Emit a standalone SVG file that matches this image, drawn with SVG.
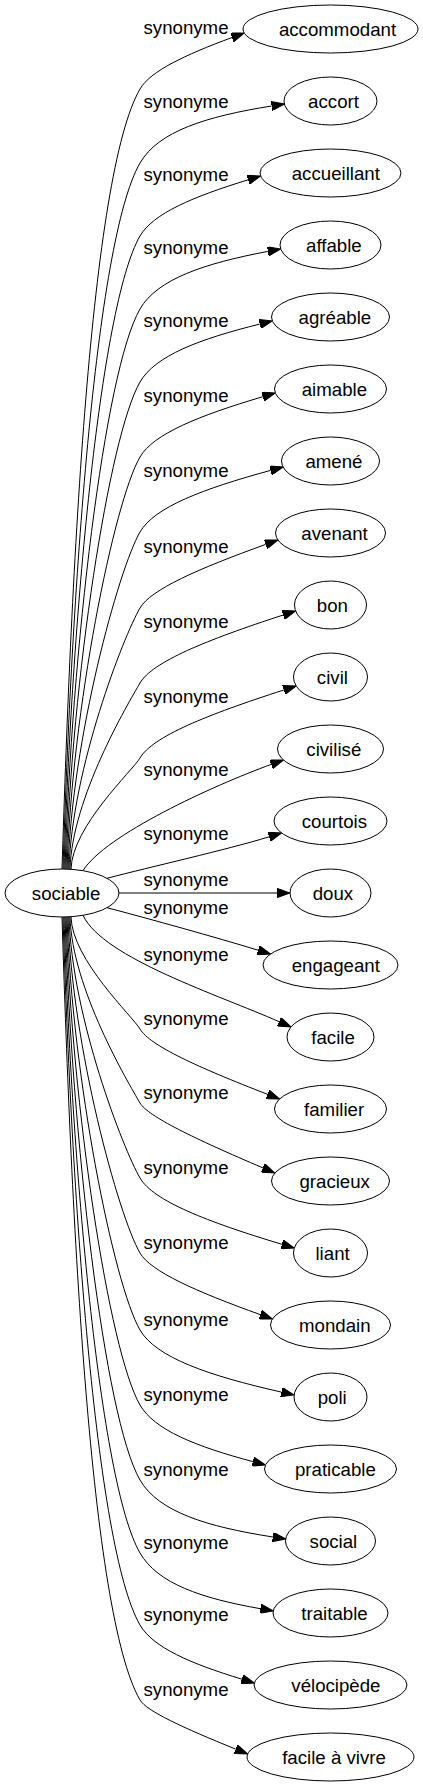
<svg xmlns="http://www.w3.org/2000/svg" width="423" height="1787" viewBox="0 0 423 1787">
<style>
text{font-family:"Liberation Sans",Arial,sans-serif;font-size:18.67px;fill:#000;text-anchor:middle}
.n ellipse{fill:none;stroke:#000;stroke-width:1}
#edges path{fill:none;stroke:#000;stroke-width:1;marker-end:url(#ah)}
</style>
<defs>
<marker id="ah" markerUnits="userSpaceOnUse" viewBox="0 0 13 9.34" refX="0" refY="4.67" markerWidth="13" markerHeight="9.34" orient="auto"><path d="M0,0L13,4.67L0,9.34z" fill="#000" stroke="#000" stroke-width="1"/></marker>
</defs>
<rect width="423" height="1787" fill="#fff"/>
<g id="edges">
<path d="M62,869C71.4,568.7 90.1,175.4 140,89C150.2,71.3 184.5,55.1 232,37.5"/>
<path d="M63,869C71.5,597.2 94.8,241.3 140,163C158.3,131.3 206.4,116.4 271.6,106"/>
<path d="M64,869C71.6,625.3 99.5,306.1 140,236C152.9,213.6 193,196.7 248.2,179.8"/>
<path d="M65,869C71.7,653.4 104.2,371.1 140,309C157.3,279.1 204.1,263.5 267.9,251.4"/>
<path d="M66,869C71.8,681.5 108.9,436 140,382C155.2,355.7 199.3,339.1 259.7,324.1"/>
<path d="M67,869C71.9,710.4 113.7,502.6 140,457C153.3,433.9 199.1,415.6 262.8,396.7"/>
<path d="M68,869C72,739.3 118.5,569.3 140,532C154.3,507.2 203,488.8 270.6,470.4"/>
<path d="M69,869C72.1,768.5 123.3,636.9 140,608C150.7,589.5 198.3,568.7 265.7,544.4"/>
<path d="M70,869C72.2,797.4 128.1,703.6 140,683C152.2,661.9 206.4,640 283.2,615"/>
<path d="M71,869C72.3,826.3 132.9,770.3 140,758C152.3,736.7 206.8,714.8 283.8,690"/>
<path d="M83,870.7C105,835 212.9,785.6 271.2,764.4"/>
<path d="M107,878.3C150,867 226.2,849.9 269.2,836.8"/>
<path d="M119,893L277,893"/>
<path d="M107,907.7C150,919 215.1,937.1 258.1,950.2"/>
<path d="M83,915.3C103,958 219.7,995.3 279.1,1021.7"/>
<path d="M71,917C72.3,960.1 132.9,1016.6 140,1029C149.5,1045.4 198.1,1067.4 267.5,1094.3"/>
<path d="M70,917C72.2,988.6 128.1,1082.4 140,1103C147.6,1116.2 194.9,1138.9 262.9,1167.9"/>
<path d="M69,917C72.1,1017.5 123.3,1149.1 140,1178C153.2,1200.8 206.7,1221.6 281.9,1244.3"/>
<path d="M68,917C72,1046.4 118.5,1215.8 140,1253C150.7,1271.5 196.1,1291.5 260.2,1314.6"/>
<path d="M67,917C72,1076 113.6,1284.2 140,1330C156,1357.6 208.6,1375.6 281.4,1392.1"/>
<path d="M66,917C71.9,1104.9 108.8,1350.9 140,1405C154.4,1430 195.9,1446.4 252.8,1461.6"/>
<path d="M65,917C71.8,1133.8 104,1417.6 140,1480C158.4,1511.9 207,1526.7 272.9,1537"/>
<path d="M64,917C71.6,1161.9 99.3,1482.5 140,1553C157.7,1583.6 201.4,1598.3 260.4,1608.7"/>
<path d="M63,917C71.5,1189.6 94.7,1546.5 140,1625C153,1647.5 190.5,1663.5 241.9,1679.2"/>
<path d="M62,917C71.4,1218.5 89.9,1613.2 140,1700C146.3,1710.9 183,1727.8 235.7,1749.1"/>
<g id="edge-labels">
<text x="186" y="33.5">synonyme</text>
<text x="186" y="107.5">synonyme</text>
<text x="186" y="180.5">synonyme</text>
<text x="186" y="253.5">synonyme</text>
<text x="186" y="326.5">synonyme</text>
<text x="186" y="401.5">synonyme</text>
<text x="186" y="476.5">synonyme</text>
<text x="186" y="552.5">synonyme</text>
<text x="186" y="627.5">synonyme</text>
<text x="186" y="702.5">synonyme</text>
<text x="186" y="775.5">synonyme</text>
<text x="186" y="839.5">synonyme</text>
<text x="186" y="885.5">synonyme</text>
<text x="186" y="913.5">synonyme</text>
<text x="186" y="960.5">synonyme</text>
<text x="186" y="1024.5">synonyme</text>
<text x="186" y="1098.5">synonyme</text>
<text x="186" y="1173.5">synonyme</text>
<text x="186" y="1248.5">synonyme</text>
<text x="186" y="1325.5">synonyme</text>
<text x="186" y="1400.5">synonyme</text>
<text x="186" y="1475.5">synonyme</text>
<text x="186" y="1548.5">synonyme</text>
<text x="186" y="1620.5">synonyme</text>
<text x="186" y="1695.5">synonyme</text>
</g>
</g>
<g id="node-sociable" class="n"><ellipse cx="62" cy="893" rx="57" ry="24"/><text x="66.1" y="899.5">sociable</text></g>
<g id="node-accommodant" class="n"><ellipse cx="330.5" cy="29" rx="87.5" ry="24"/><text x="337.5" y="35.5">accommodant</text></g>
<g id="node-accort" class="n"><ellipse cx="330.5" cy="101" rx="46.5" ry="24"/><text x="333.5" y="107.5">accort</text></g>
<g id="node-accueillant" class="n"><ellipse cx="330.5" cy="173" rx="70.5" ry="24"/><text x="335.8" y="179.5">accueillant</text></g>
<g id="node-affable" class="n"><ellipse cx="330.5" cy="245" rx="50.5" ry="24"/><text x="333.9" y="251.5">affable</text></g>
<g id="node-agreable" class="n"><ellipse cx="330.5" cy="317" rx="59" ry="24"/><text x="334.9" y="323.5">agréable</text></g>
<g id="node-aimable" class="n"><ellipse cx="330.5" cy="389" rx="56" ry="24"/><text x="334.4" y="395.5">aimable</text></g>
<g id="node-amene" class="n"><ellipse cx="330.5" cy="461" rx="49" ry="24"/><text x="333.9" y="467.5">amené</text></g>
<g id="node-avenant" class="n"><ellipse cx="330.5" cy="533" rx="55" ry="24"/><text x="334.5" y="539.5">avenant</text></g>
<g id="node-bon" class="n"><ellipse cx="330.5" cy="605" rx="36" ry="24"/><text x="332.4" y="611.5">bon</text></g>
<g id="node-civil" class="n"><ellipse cx="330.5" cy="677" rx="37" ry="24"/><text x="332.4" y="683.5">civil</text></g>
<g id="node-civilise" class="n"><ellipse cx="330.5" cy="749" rx="53" ry="24"/><text x="333.8" y="755.5">civilisé</text></g>
<g id="node-courtois" class="n"><ellipse cx="330.5" cy="821" rx="56.5" ry="24"/><text x="334.4" y="827.5">courtois</text></g>
<g id="node-doux" class="n"><ellipse cx="330.5" cy="893" rx="40.5" ry="24"/><text x="332.9" y="899.5">doux</text></g>
<g id="node-engageant" class="n"><ellipse cx="330.5" cy="965" rx="67.5" ry="24"/><text x="335.8" y="971.5">engageant</text></g>
<g id="node-facile" class="n"><ellipse cx="330.5" cy="1037" rx="43.5" ry="24"/><text x="333.1" y="1043.5">facile</text></g>
<g id="node-familier" class="n"><ellipse cx="330.5" cy="1109" rx="56" ry="24"/><text x="334.1" y="1115.5">familier</text></g>
<g id="node-gracieux" class="n"><ellipse cx="330.5" cy="1181" rx="59" ry="24"/><text x="334.7" y="1187.5">gracieux</text></g>
<g id="node-liant" class="n"><ellipse cx="330.5" cy="1253" rx="37" ry="24"/><text x="332.6" y="1259.5">liant</text></g>
<g id="node-mondain" class="n"><ellipse cx="330.5" cy="1325" rx="60" ry="24"/><text x="334.8" y="1331.5">mondain</text></g>
<g id="node-poli" class="n"><ellipse cx="330.5" cy="1397" rx="36.5" ry="24"/><text x="332.2" y="1403.5">poli</text></g>
<g id="node-praticable" class="n"><ellipse cx="330.5" cy="1469" rx="66" ry="24"/><text x="335.4" y="1475.5">praticable</text></g>
<g id="node-social" class="n"><ellipse cx="330.5" cy="1541" rx="45" ry="24"/><text x="333.4" y="1547.5">social</text></g>
<g id="node-traitable" class="n"><ellipse cx="330.5" cy="1613" rx="57.5" ry="24"/><text x="334.5" y="1619.5">traitable</text></g>
<g id="node-velocipede" class="n"><ellipse cx="330.5" cy="1685" rx="76.5" ry="24"/><text x="335.9" y="1691.5">vélocipède</text></g>
<g id="node-facile-a-vivre" class="n"><ellipse cx="330.5" cy="1757" rx="83.5" ry="24"/><text x="334" y="1763.5">facile à vivre</text></g>
</svg>
